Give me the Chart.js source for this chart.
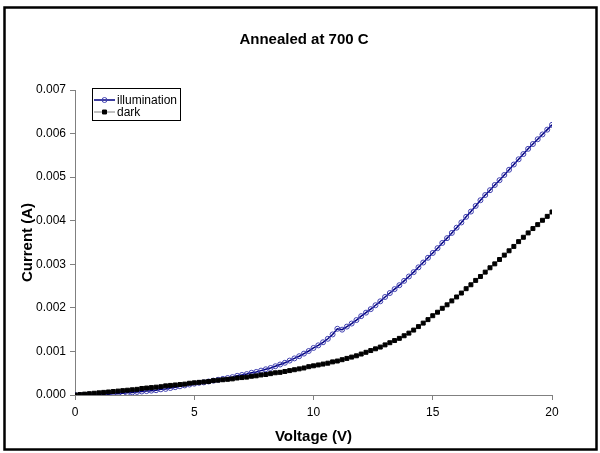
<!DOCTYPE html>
<html>
<head>
<meta charset="utf-8">
<script src="https://cdn.jsdelivr.net/npm/chart.js@4"></script>
<style>
  body { margin: 0; background: #fff; }
  #ivChart { display: block; }
</style>
</head>
<body>
<canvas id="ivChart" width="600" height="453"></canvas>
<script>
// Voltage sweep (V)
const voltage = [0, 0.2, 0.4, 0.6, 0.8, 1, 1.2, 1.4, 1.6, 1.8, 2, 2.2, 2.4, 2.6, 2.8, 3, 3.2, 3.4, 3.6, 3.8,
    4, 4.2, 4.4, 4.6, 4.8, 5, 5.2, 5.4, 5.6, 5.8, 6, 6.2, 6.4, 6.6, 6.8, 7, 7.2, 7.4, 7.6, 7.8,
    8, 8.2, 8.4, 8.6, 8.8, 9, 9.2, 9.4, 9.6, 9.8, 10, 10.2, 10.4, 10.6, 10.8, 11, 11.2, 11.4, 11.6, 11.8,
    12, 12.2, 12.4, 12.6, 12.8, 13, 13.2, 13.4, 13.6, 13.8, 14, 14.2, 14.4, 14.6, 14.8, 15, 15.2, 15.4, 15.6, 15.8,
    16, 16.2, 16.4, 16.6, 16.8, 17, 17.2, 17.4, 17.6, 17.8, 18, 18.2, 18.4, 18.6, 18.8, 19, 19.2, 19.4, 19.6, 19.8, 20];

// Current under illumination (A)
const illumination = [
    0.00000, 0.00000, 0.00000, 0.00001, 0.00001,
    0.00001, 0.00002, 0.00002, 0.00003, 0.00003,
    0.00004, 0.00005, 0.00006, 0.00007, 0.00008,
    0.00009, 0.00010, 0.00011, 0.00013, 0.00014,
    0.00016, 0.00018, 0.00020, 0.00022, 0.00024,
    0.00026, 0.00028, 0.00029, 0.00031, 0.00033,
    0.00035, 0.00037, 0.00039, 0.00041, 0.00044,
    0.00046, 0.00048, 0.00051, 0.00053, 0.00056,
    0.00059, 0.00062, 0.00066, 0.00070, 0.00074,
    0.00079, 0.00084, 0.00089, 0.00095, 0.00101,
    0.00108, 0.00114, 0.00121, 0.00129, 0.00139,
    0.00152, 0.00150, 0.00157, 0.00164, 0.00172,
    0.00181, 0.00189, 0.00197, 0.00206, 0.00215,
    0.00225, 0.00234, 0.00243, 0.00252, 0.00262,
    0.00272, 0.00282, 0.00293, 0.00304, 0.00315,
    0.00326, 0.00337, 0.00349, 0.00360, 0.00372,
    0.00384, 0.00396, 0.00409, 0.00421, 0.00434,
    0.00447, 0.00459, 0.00470, 0.00482, 0.00493,
    0.00505, 0.00517, 0.00529, 0.00541, 0.00553,
    0.00565, 0.00576, 0.00587, 0.00598, 0.00609,
    0.00620];

// Dark current (A)
const dark = [
    0.00000, 0.00001, 0.00002, 0.00003, 0.00004,
    0.00005, 0.00006, 0.00007, 0.00008, 0.00009,
    0.00010, 0.00011, 0.00012, 0.00013, 0.00015,
    0.00016, 0.00017, 0.00018, 0.00019, 0.00021,
    0.00022, 0.00023, 0.00024, 0.00025, 0.00027,
    0.00028, 0.00029, 0.00030, 0.00031, 0.00033,
    0.00034, 0.00035, 0.00036, 0.00037, 0.00039,
    0.00040, 0.00041, 0.00043, 0.00044, 0.00046,
    0.00047, 0.00049, 0.00051, 0.00052, 0.00054,
    0.00056, 0.00058, 0.00060, 0.00062, 0.00065,
    0.00067, 0.00069, 0.00071, 0.00073, 0.00076,
    0.00078, 0.00081, 0.00084, 0.00087, 0.00090,
    0.00094, 0.00098, 0.00102, 0.00106, 0.00110,
    0.00115, 0.00120, 0.00125, 0.00130, 0.00136,
    0.00142, 0.00149, 0.00157, 0.00165, 0.00173,
    0.00182, 0.00190, 0.00199, 0.00207, 0.00216,
    0.00225, 0.00234, 0.00244, 0.00253, 0.00263,
    0.00272, 0.00282, 0.00292, 0.00301, 0.00311,
    0.00321, 0.00331, 0.00341, 0.00352, 0.00362,
    0.00372, 0.00382, 0.00391, 0.00401, 0.00410,
    0.00420];

const seriesNames = ['illumination', 'dark'];
const xTicks = [0, 5, 10, 15, 20];
const yTicks = [0, 0.001, 0.002, 0.003, 0.004, 0.005, 0.006, 0.007];

const FONT = 'Arial, "Liberation Sans", sans-serif';

// Frame, title and boxed legend, drawn the way the spreadsheet did
const decorPlugin = {
    id: 'decor',
    afterDraw(chart) {
        const ctx = chart.ctx;
        ctx.save();
        // outer frame
        ctx.strokeStyle = '#000';
        ctx.lineWidth = 2.5;
        ctx.strokeRect(4.5, 7.5, 592, 442);

        // title
        ctx.fillStyle = '#000';
        ctx.font = 'bold 15px ' + FONT;
        ctx.textAlign = 'center';
        ctx.textBaseline = 'middle';
        ctx.fillText('Annealed at 700 C', 304, 40);

        // legend box
        ctx.strokeStyle = '#000';
        ctx.lineWidth = 1;
        ctx.strokeRect(92.5, 88.5, 88, 32);
        ctx.font = '12px ' + FONT;
        ctx.textAlign = 'left';
        chart.data.datasets.forEach((ds, i) => {
            const y = 100 + i * 12;
            ctx.strokeStyle = ds.borderColor;
            ctx.lineWidth = ds.borderWidth;
            ctx.beginPath();
            ctx.moveTo(94, y);
            ctx.lineTo(115, y);
            ctx.stroke();
            ctx.fillStyle = ds.pointBackgroundColor;
            ctx.strokeStyle = ds.pointBorderColor;
            ctx.lineWidth = ds.pointBorderWidth;
            Chart.helpers.drawPoint(ctx, {
                pointStyle: ds.pointStyle,
                radius: ds.pointRadius,
                borderWidth: ds.pointBorderWidth,
                rotation: 0
            }, 104.5, y);
            ctx.fillStyle = '#000';
            ctx.fillText(ds.label, 117, y + 1);
        });
        ctx.restore();
    }
};

const ctx = document.getElementById('ivChart').getContext('2d');
new Chart(ctx, {
    type: 'line',
    data: {
        datasets: [
            {
                label: seriesNames[0],
                data: voltage.map((v, i) => ({ x: v, y: illumination[i] })),
                borderColor: '#000080',
                borderWidth: 1.5,
                pointStyle: 'circle',
                pointRadius: 2.5,
                pointBorderWidth: 1,
                pointBorderColor: '#4040b0',
                pointBackgroundColor: 'rgba(255,255,255,0)',
                fill: false,
                tension: 0,
                order: 1
            },
            {
                label: seriesNames[1],
                data: voltage.map((v, i) => ({ x: v, y: dark[i] })),
                borderColor: '#808080',
                borderWidth: 1,
                pointStyle: 'rect',
                pointRadius: 2.8,
                pointBorderWidth: 1,
                pointBorderColor: '#000',
                pointBackgroundColor: '#000',
                fill: false,
                tension: 0,
                order: 0
            }
        ]
    },
    options: {
        responsive: false,
        animation: false,
        events: [],
        layout: { padding: { top: 90, right: 48, bottom: 0, left: 0 } },
        plugins: {
            legend: { display: false },
            title: { display: false },
            tooltip: { enabled: false }
        },
        scales: {
            x: {
                type: 'linear',
                min: 0,
                max: 20,
                afterFit: s => { s.height = 58; },
                afterBuildTicks: s => { s.ticks = xTicks.map(v => ({ value: v })); },
                ticks: { color: '#000', font: { family: FONT, size: 12 }, padding: 5, maxRotation: 0 },
                grid: { drawOnChartArea: false, drawTicks: true, tickLength: 5, color: '#808080' },
                border: { color: '#808080', width: 1 },
                title: {
                    display: true,
                    text: 'Voltage (V)',
                    color: '#000',
                    font: { family: FONT, size: 15, weight: 'bold' },
                    padding: { top: 0, bottom: 7 }
                }
            },
            y: {
                min: 0,
                max: 0.007,
                afterFit: s => { s.width = 75; },
                afterBuildTicks: s => { s.ticks = yTicks.map(v => ({ value: v })); },
                ticks: {
                    color: '#000',
                    font: { family: FONT, size: 12 },
                    padding: 4,
                    callback: v => v.toFixed(3)
                },
                grid: { drawOnChartArea: false, drawTicks: true, tickLength: 5, color: '#808080' },
                border: { color: '#808080', width: 1 },
                title: {
                    display: true,
                    text: 'Current (A)',
                    color: '#000',
                    font: { family: FONT, size: 15, weight: 'bold' },
                    padding: { top: 19, bottom: 0 }
                }
            }
        }
    },
    plugins: [decorPlugin]
});
</script>
</body>
</html>
